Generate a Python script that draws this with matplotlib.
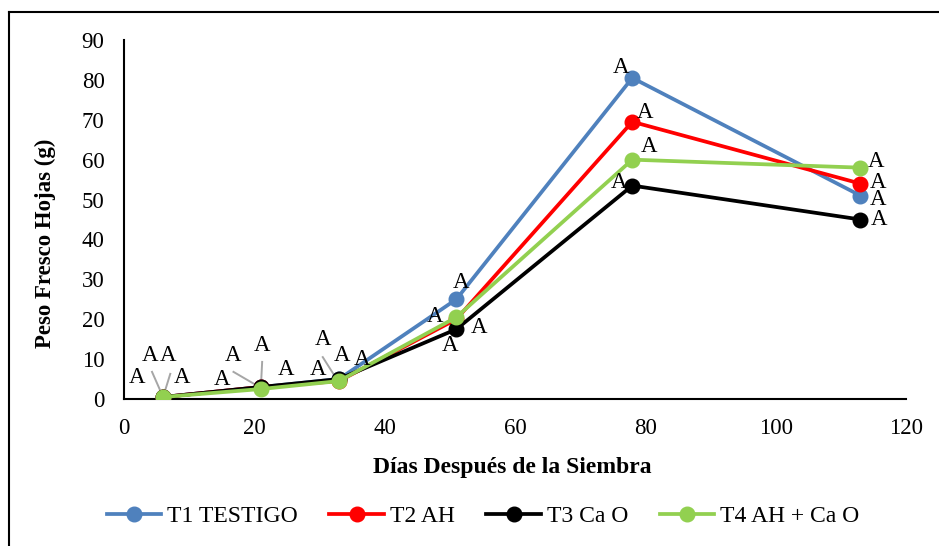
import matplotlib
matplotlib.use("Agg")
import matplotlib.pyplot as plt
from matplotlib.lines import Line2D

# ---- data ----
days = [6, 21, 33, 51, 78, 113]
t1_testigo = [0.5, 3.0, 5.0, 25.0, 80.5, 51.0]
t2_ah = [0.5, 3.0, 4.5, 20.0, 69.5, 54.0]
t3_cao = [0.5, 3.0, 5.0, 17.5, 53.5, 45.0]
t4_ah_cao = [0.5, 2.5, 4.5, 20.5, 60.0, 58.0]
series_names = ["T1 TESTIGO", "T2 AH", "T3 Ca O", "T4 AH + Ca O"]
series_colors = ["#4F81BD", "#FF0000", "#000000", "#92D050"]
x_ticks = [0, 20, 40, 60, 80, 100, 120]
y_ticks = [0, 10, 20, 30, 40, 50, 60, 70, 80, 90]
letter = "A"

# significance-letter placements (x, y text centre) and leader lines
label_pos = [
    (2.0, 5.3), (4.0, 11.0), (6.8, 11.0), (8.9, 5.3),
    (15.1, 4.8), (16.8, 11.0), (21.2, 13.5), (24.8, 7.3),
    (30.5, 14.8), (29.8, 7.3), (33.5, 11.0), (36.6, 9.8),
    (51.7, 29.1), (47.8, 20.6), (54.5, 18.0), (50.0, 13.3),
    (76.3, 83.2), (80.0, 71.9), (80.5, 63.2), (76.0, 54.4),
    (115.4, 59.6), (115.7, 54.4), (115.7, 49.9), (115.8, 44.9),
]
leaders = [
    ((4.3, 6.8), (6.0, 0.5)), ((7.1, 6.3), (6.0, 0.5)),
    ((16.8, 6.8), (21.0, 2.8)), ((21.2, 9.3), (21.0, 2.8)),
    ((30.5, 10.5), (32.9, 4.3)),
]

plt.rcParams["font.family"] = ["Liberation Serif", "DejaVu Serif"]

W, H = 939, 546
fig = plt.figure(figsize=(W / 100, H / 100), dpi=100)
ax = fig.add_axes([124 / W, 1 - 399 / H, (906 - 124) / W, (399 - 40) / H])

all_series = [t1_testigo, t2_ah, t3_cao, t4_ah_cao]
for vals, name, col in zip(all_series, series_names, series_colors):
    ax.plot(days, vals, color=col, lw=2.7, marker="o", markersize=10.5,
            label=name, solid_capstyle="round", zorder=3)

for (p0, p1) in leaders:
    ax.plot([p0[0], p1[0]], [p0[1], p1[1]], color="#A6A6A6", lw=1.4, zorder=2)

for (lx, ly) in label_pos:
    ax.text(lx, ly, letter, ha="center", va="center", fontsize=16.5, zorder=4)

ax.set_xlim(0, 120)
ax.set_ylim(0, 90)
ax.set_xticks(x_ticks)
ax.set_yticks(y_ticks)
ax.tick_params(length=0, labelsize=16.5)
ax.tick_params(axis="y", pad=14)
ax.tick_params(axis="x", pad=14)
for s in ["top", "right"]:
    ax.spines[s].set_visible(False)
for s in ["left", "bottom"]:
    ax.spines[s].set_linewidth(1.5)
    ax.spines[s].set_color("black")

fig.text(512 / W, 1 - 468 / H, "Días Después de la Siembra", ha="center",
         va="center", fontsize=17, fontweight="bold")
fig.text(45 / W, 1 - 243 / H, "Peso Fresco Hojas (g)", ha="center",
         va="center", fontsize=16.5, fontweight="bold", rotation=90)

handles = [Line2D([0], [0], color=c, lw=2.7, marker="o", markersize=10.5)
           for c in series_colors]
fig.legend(handles, series_names, loc="center", bbox_to_anchor=(483 / W, 1 - 516 / H),
           ncol=4, frameon=False, fontsize=17, handlelength=2.3,
           columnspacing=1.35, handletextpad=0.25)

# outer chart frame
fig.add_artist(Line2D([9 / W, 9 / W], [0, 1 - 12 / H], color="black", lw=1.5,
                      transform=fig.transFigure))
fig.add_artist(Line2D([9 / W, 1], [1 - 12 / H, 1 - 12 / H], color="black", lw=1.5,
                      transform=fig.transFigure))

fig.savefig("out.png", dpi=100)
